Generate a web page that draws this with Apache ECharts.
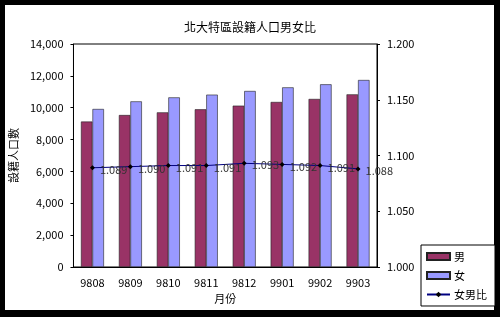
<!DOCTYPE html>
<html><head><meta charset="utf-8">
<script src="https://cdn.jsdelivr.net/npm/echarts@6/dist/echarts.min.js"></script>
<style>html,body{margin:0;padding:0;background:#000}#c{width:500px;height:317px}</style>
</head><body><div id="c"></div>
<script>
var categories = ['9808','9809','9810','9811','9812','9901','9902','9903'];
var male = [9130, 9540, 9710, 9900, 10130, 10360, 10550, 10840];
var female = [9920, 10400, 10650, 10820, 11050, 11280, 11470, 11740];
var ratio = [1.089, 1.090, 1.091, 1.091, 1.093, 1.092, 1.091, 1.088];
var leftTicks = {min: 0, max: 14000, interval: 2000};
var rightTicks = {min: 1.0, max: 1.2, interval: 0.05};

var F = "'Noto Sans CJK TC', 'Noto Sans', sans-serif";
var chart = echarts.init(document.getElementById('c'));
chart.setOption({
  backgroundColor: '#000',
  animation: false,
  textStyle: {fontFamily: F},
  graphic: [{type: 'rect', z: -10, silent: true, shape: {x: 5, y: 5, width: 489, height: 305}, style: {fill: '#fff'}}],
  title: {text: '北大特區設籍人口男女比', left: 'center', top: 16, textStyle: {fontFamily: F, fontSize: 12, fontWeight: 'normal', color: '#000'}},
  legend: {
    orient: 'vertical', left: 421, top: 245,
    backgroundColor: '#fff', borderColor: '#000', borderWidth: 1,
    padding: [6, 8, 6, 5], itemGap: 8, itemWidth: 23, itemHeight: 7,
    textStyle: {fontFamily: F, fontSize: 11, color: '#000', padding: [0, 0, 0, -1]},
    data: [{name: '男', icon: 'rect'}, {name: '女', icon: 'rect'}, {name: '女男比'}]
  },
  grid: {left: 67, right: 123, top: 44, bottom: 50, show: true, borderColor: '#000', borderWidth: 1},
  xAxis: {
    type: 'category', data: categories, name: '月份', nameLocation: 'middle', nameGap: 25,
    nameTextStyle: {fontFamily: F, fontSize: 11, color: '#000'},
    axisLine: {lineStyle: {color: '#000'}},
    axisTick: {inside: true, length: 3, lineStyle: {color: '#000'}},
    axisLabel: {color: '#000', fontSize: 11, margin: 10, fontFamily: F}
  },
  yAxis: [{
    type: 'value', min: leftTicks.min, max: leftTicks.max, interval: leftTicks.interval,
    name: '設籍人口數', nameLocation: 'middle', nameGap: 50, nameRotate: 90,
    nameTextStyle: {fontFamily: F, fontSize: 11, color: '#000'},
    splitLine: {show: false},
    axisLine: {show: true, lineStyle: {color: '#000'}},
    axisTick: {show: true, length: 3, lineStyle: {color: '#000'}},
    axisLabel: {color: '#000', fontSize: 11, margin: 10, fontFamily: F,
      formatter: function (v) { return v.toString().replace(/\B(?=(\d{3})+(?!\d))/g, ','); }}
  }, {
    type: 'value', min: rightTicks.min, max: rightTicks.max, interval: rightTicks.interval,
    splitLine: {show: false},
    axisLine: {show: true, lineStyle: {color: '#000'}},
    axisTick: {show: true, length: 3, lineStyle: {color: '#000'}},
    axisLabel: {color: '#000', fontSize: 11, margin: 10, fontFamily: F,
      formatter: function (v) { return v.toFixed(3); }}
  }],
  series: [{
    name: '男', type: 'bar', data: male, barWidth: 11.5, barGap: '0%',
    itemStyle: {color: '#993366', borderColor: '#222', borderWidth: 0.6}
  }, {
    name: '女', type: 'bar', data: female, barWidth: 11.5, barGap: '0%',
    itemStyle: {color: '#9999ff', borderColor: '#222', borderWidth: 0.6}
  }, {
    name: '女男比', type: 'line', yAxisIndex: 1, data: ratio, z: 5,
    symbol: 'diamond', symbolSize: 5,
    lineStyle: {color: '#000080', width: 1},
    itemStyle: {color: '#000'},
    label: {show: true, position: 'right', distance: 5, offset: [0, 2], color: '#333', fontSize: 11, fontFamily: F,
      formatter: function (p) { return p.value.toFixed(3); }}
  }]
});
</script></body></html>
